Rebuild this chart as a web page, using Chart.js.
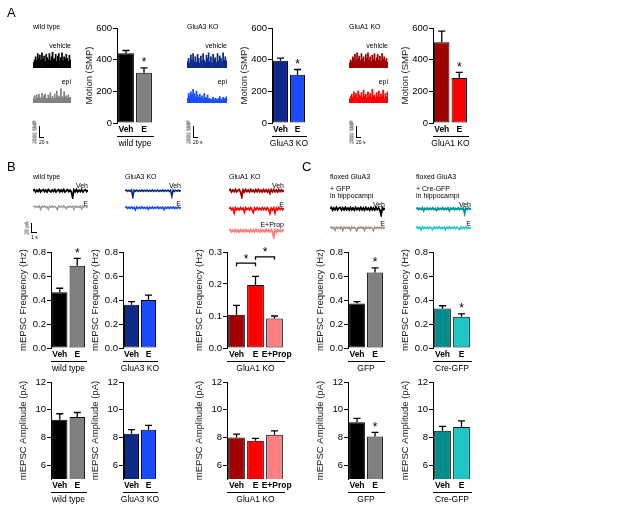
<!DOCTYPE html>
<html>
<head>
<meta charset="utf-8">
<script src="https://cdn.jsdelivr.net/npm/chart.js@4.4.1/dist/chart.umd.min.js"></script>
<style>
  html, body { margin: 0; padding: 0; background: #fff; }
  #fig { position: relative; width: 617px; height: 506px; overflow: hidden;
         font-family: 'Liberation Sans', Arial, sans-serif; color: #000; }
  #fig canvas { position: absolute; }
  .lbl { position: absolute; white-space: nowrap; line-height: 1; color: #000;
         will-change: transform; -webkit-font-smoothing: antialiased; }
  .sb { position: absolute; background: #000; }
</style>
</head>
<body>
<div id="fig"></div>
<script>
/* ---------- data ---------- */
const vehE = ['Veh', 'E'];
const vehEProp = ['Veh', 'E', 'E+Prop'];

// A: motion (SMP), mean and sem
const motionTicks = [0, 200, 400, 600];
const motionWT = [440, 318], motionWTsem = [18, 30];
const motionA3 = [393, 305], motionA3sem = [17, 33];
const motionA1 = [510, 285], motionA1sem = [70, 35];

// B/C: mEPSC frequency (Hz)
const freqTicks = [0, 0.2, 0.4, 0.6, 0.8];
const freqTicksA1 = [0, 0.1, 0.2, 0.3];
const freqWT = [0.464, 0.685], freqWTsem = [0.034, 0.062];
const freqA3 = [0.36, 0.40], freqA3sem = [0.026, 0.04];
const freqA1 = [0.104, 0.197, 0.092], freqA1sem = [0.029, 0.027, 0.008];
const freqGFP = [0.371, 0.629], freqGFPsem = [0.015, 0.039];
const freqCre = [0.329, 0.261], freqCresem = [0.023, 0.023];

// B/C: mEPSC amplitude (pA), axis starts at 5
const ampMin = 5;
const ampTicks = [6, 8, 10, 12];
const ampWT = [9.28, 9.47], ampWTsem = [0.43, 0.33];
const ampA3 = [8.27, 8.56], ampA3sem = [0.29, 0.31];
const ampA1 = [8.0, 7.76, 8.19], ampA1sem = [0.24, 0.17, 0.29];
const ampGFP = [9.1, 8.07], ampGFPsem = [0.27, 0.29];
const ampCre = [8.48, 8.75], ampCresem = [0.32, 0.45];

// significance marks
const starE = [false, true];
const noStar = [false, false, false];
const bracketsA1 = [{ from: 0, to: 1, level: 0.265 }, { from: 1, to: 2, level: 0.285 }];

// A: activity traces (relative counts per bin)
const actWTveh = [0.35,0.5,0.7,0.45,0.9,0.6,0.8,0.5,0.95,0.55,0.75,0.4,0.85,0.65,0.5,0.9,0.45,0.7,1.0,0.55,0.6,0.85,0.4,0.75,0.9,0.5,0.65,0.95,0.45,0.7,0.55,0.85,0.6,0.4,0.8,0.5];
const actWTepi = [0.3,0.45,0.25,0.5,0.3,0.55,0.35,0.25,0.6,0.3,0.45,0.55,0.3,0.25,0.5,0.35,0.65,0.3,0.4,0.25,0.55,0.3,0.75,0.35,0.45,0.3,0.9,0.4,0.3,0.7,0.35,0.45,0.3,0.5,0.3,0.35];
const actA3veh = [0.4,0.6,0.3,0.8,0.5,0.9,0.4,0.7,0.35,0.85,0.6,0.3,0.75,0.45,0.9,0.5,0.35,0.8,0.6,0.95,0.4,0.7,0.3,0.85,0.55,0.65,0.35,0.9,0.45,0.75,0.6,0.4,0.95,0.5,0.7,0.45];
const actA3epi = [0.3,0.6,0.45,0.7,0.5,0.85,0.6,0.4,0.75,0.5,0.35,0.55,0.3,0.45,0.25,0.6,0.35,0.3,0.5,0.25,0.3,0.2,0.25,0.35,0.2,0.3,0.25,0.2,0.3,0.4,0.25,0.2,0.35,0.25,0.3,0.4];
const actA1veh = [0.3,0.5,0.4,0.7,0.6,0.85,0.5,0.95,0.6,0.75,0.45,0.9,0.55,0.7,0.4,0.85,0.6,0.95,0.5,0.7,0.4,0.8,0.55,0.9,0.45,0.65,0.85,0.5,0.75,0.4,0.9,0.55,0.7,0.45,0.6,0.35];
const actA1epi = [0.25,0.4,0.55,0.35,0.7,0.45,0.6,0.3,0.75,0.5,0.4,0.65,0.35,0.8,0.45,0.55,0.3,0.7,0.4,0.6,0.35,0.85,0.45,0.5,0.3,0.65,0.4,0.75,0.35,0.55,0.45,0.8,0.3,0.6,0.4,0.7];

// B/C: current traces (pA, relative to baseline)
const bWTveh = [0,0.8,-0.8,0.4,-0.6,0.9,-0.9,0.2,0.8,-0.7,0.5,-0.9,0.9,0,-0.8,0.6,-0.5,0.9,-0.9,0.1,0.8,-0.8,0.5,-0.6,0.9,-0.9,0,0.8,-0.6,0.4,-0.8,-5,0.6,-0.7,0.9,-0.8,0.4,-0.6,0.8,-0.9,0.2,0.7,-0.6,0.4];
const bWTe = [0,0.5,-0.5,0.3,-0.4,0.6,-2,0.4,-0.3,0.5,-0.5,0.2,-1.8,0.4,-0.4,0.6,-0.5,0.3,-0.4,-2.2,0.5,-0.3,0.4,-0.5,0.6,-0.4,-1.5,0.3,-0.5,0.5,-0.3,0.4,-2,0.5,-0.4,0.3,-0.5,0.6,-1.6,0.4,-0.3,0.5,-0.4,0.2];
const bA3veh = [0,0.5,-0.5,0.4,-0.4,0.6,-4.5,0.4,-0.3,0.5,-0.5,0.3,-0.4,0.6,-0.5,0.4,-0.3,0.5,-0.5,0.3,-0.4,0.6,-0.5,0.4,-0.3,0.5,-0.5,0.3,-0.4,0.6,-0.5,0.4,-0.3,0.5,-0.5,0.3,-4,0.6,-0.5,0.4,-0.3,0.5,-0.4,0.3];
const bA3e = [0,0.6,-0.6,0.4,-0.5,0.7,-0.6,0.3,-1.5,0.6,-0.5,0.4,-0.6,0.7,-0.5,0.3,-0.6,0.5,-1.2,0.4,-0.5,0.6,-0.6,0.4,-0.5,0.7,-0.6,0.3,-0.5,0.6,-1.4,0.4,-0.5,0.6,-0.6,0.4,-0.5,0.7,-0.6,0.3,-0.5,0.6,-0.4,0.3];
const bA1veh = [0,0.9,-0.9,0.5,-0.7,1,-0.8,0.3,0.9,-0.9,-4.5,0.6,-0.9,0.8,-0.7,0.6,-0.8,0.9,-0.6,0.4,-0.9,0.8,-0.7,0.9,-0.8,0.5,-0.9,0.8,-0.6,0.7,-0.9,0.6,-1.8,0.8,-0.7,0.9,-0.8,0.5,-0.9,0.8,-0.6,0.7,-0.5,0.4];
const bA1e = [0,0.9,-0.8,0.5,-3,0.9,-0.8,0.4,-0.9,0.8,-0.7,0.6,-2.5,0.9,-0.6,0.5,-0.9,0.8,-0.7,-2.8,0.6,-0.8,0.9,-0.6,0.5,-0.9,0.8,-0.7,0.6,-0.8,0.9,-0.6,-3.5,0.5,-0.9,0.8,-3.2,0.6,-0.8,0.9,-0.6,0.5,-0.7,0.4];
const bA1prop = [0,0.8,-0.8,0.5,-0.7,0.9,-0.8,0.4,-0.9,0.8,-0.7,0.6,-0.8,0.9,-0.6,0.5,-0.9,0.8,-0.7,0.6,-0.8,0.9,-0.6,0.5,-0.9,0.8,-0.7,0.6,-0.8,0.9,-0.6,0.5,-0.9,0.8,-0.7,-5,0.6,-0.8,0.9,-0.6,0.5,-0.7,0.6,0.4];
const cGFPveh = [0,1,-1,0.6,-0.8,1,-0.9,0.5,1,-1,0.7,-0.8,1,-0.6,0.5,-1,0.9,-0.8,0.6,-1,1,-0.7,0.5,-0.9,1,-0.8,0.6,-1,0.9,-0.7,0.5,-1,1,-0.8,0.6,-0.9,1,-0.7,0.5,-1,-4.5,0.8,-0.6,0.4];
const cGFPe = [0,0.5,-0.5,0.3,-1.8,0.5,-0.4,0.3,-0.5,0.4,-2,0.5,-0.3,0.4,-0.5,0.3,-1.6,0.5,-0.4,0.3,-0.5,-2.2,0.4,-0.3,0.5,-0.4,0.3,-1.8,0.5,-0.4,0.3,-0.5,0.4,-0.3,-2,0.5,-0.4,0.3,-0.5,0.4,-0.3,0.5,-0.4,0.3];
const cCreVeh = [0,0.6,-0.6,0.4,-0.5,0.7,-1.4,0.3,-0.5,0.6,-0.6,0.4,-0.5,0.7,-0.6,0.3,-1.2,0.6,-0.6,0.4,-0.5,0.7,-0.6,0.3,-0.5,0.6,-1.3,0.4,-0.5,0.7,-0.6,0.3,-0.5,0.6,-0.6,0.4,-0.5,0.7,-3.5,0.3,-0.5,0.6,-0.4,0.3];
const cCreE = [0,0.6,-0.6,0.4,-1.6,0.7,-0.6,0.3,-0.5,0.6,-0.6,0.4,-0.5,-1.4,0.6,-0.6,0.4,-0.5,0.7,-0.6,0.3,-0.5,0.6,-1.5,0.4,-0.5,0.7,-0.6,0.3,-0.5,0.6,-0.6,0.4,-0.5,-1.3,0.6,-0.6,0.4,-0.5,0.7,-0.6,0.3,-0.5,0.4];

// colours per genotype
const colWT = ['#000000', '#808080'];
const colA3 = ['#0d2a8a', '#1a4cff'];
const colA1 = ['#a00000', '#ff0000', '#ff8080'];
const colCre = ['#008c8c', '#1fc4c4'];

/* ---------- helpers ---------- */
const FONT = "'Liberation Sans', Arial, sans-serif";
Chart.defaults.font.family = FONT;
Chart.defaults.color = '#000';
const fig = document.getElementById('fig');

function label(text, x, y, size, align, extra) {
  const d = document.createElement('div');
  d.className = 'lbl';
  d.textContent = text;
  d.style.left = x + 'px';
  d.style.top = y + 'px';
  d.style.fontSize = size + 'px';
  const tx = align === 'right' ? '-100%' : align === 'center' ? '-50%' : '0';
  d.style.transform = `translate(${tx}, -50%)` + (extra || '');
  fig.appendChild(d);
  return d;
}

function newCanvas(x, y, w, h) {
  const c = document.createElement('canvas');
  c.width = w; c.height = h;
  c.style.left = x + 'px'; c.style.top = y + 'px';
  c.style.width = w + 'px'; c.style.height = h + 'px';
  fig.appendChild(c);
  return c.getContext('2d');
}

// error bars, stars, brackets and group underline for the bar graphs
const errBarsPlugin = {
  id: 'errbars',
  afterDatasetsDraw(chart, args, opts) {
    if (!opts || !opts.sem) return;
    const ctx = chart.ctx;
    const ys = chart.scales.y;
    const bars = chart.getDatasetMeta(0).data;
    const vals = chart.data.datasets[0].data;
    ctx.save();
    ctx.strokeStyle = '#000';
    ctx.fillStyle = '#000';
    ctx.lineWidth = 1.3;
    ctx.font = `12px ${FONT}`;
    ctx.textAlign = 'center';
    ctx.textBaseline = 'middle';
    bars.forEach((bar, i) => {
      const top = ys.getPixelForValue(vals[i] + opts.sem[i]);
      ctx.beginPath();
      ctx.moveTo(bar.x, bar.y);
      ctx.lineTo(bar.x, top);
      ctx.moveTo(bar.x - 3.5, top);
      ctx.lineTo(bar.x + 3.5, top);
      ctx.stroke();
      if (opts.stars && opts.stars[i]) ctx.fillText('*', bar.x, top - 5);
    });
    (opts.brackets || []).forEach(b => {
      const y = ys.getPixelForValue(b.level);
      const x1 = bars[b.from].x, x2 = bars[b.to].x;
      ctx.beginPath();
      ctx.moveTo(x1, y + 3); ctx.lineTo(x1, y); ctx.lineTo(x2, y); ctx.lineTo(x2, y + 3);
      ctx.stroke();
      ctx.fillText('*', (x1 + x2) / 2, y - 4);
    });
    const a = chart.chartArea;
    ctx.lineWidth = 1;
    ctx.beginPath();
    ctx.moveTo(a.left, a.bottom + 13.5);
    ctx.lineTo(a.right + 1, a.bottom + 13.5);
    ctx.stroke();
    ctx.font = `8.5px ${FONT}`;
    ctx.fillText(opts.group, (a.left + a.right) / 2, a.bottom + 20.5);
    ctx.restore();
  }
};
Chart.register(errBarsPlugin);

const Y_W = 33, X_H = 28, PAD_T = 14, PAD_R = 18;

function barGraph(p) {
  const cx = p.axisX - Y_W;
  const cy = Math.round(p.top) - PAD_T;
  const w = p.right - cx + PAD_R;
  const h = Math.round(p.bottom) - cy + X_H;
  const ctx = newCanvas(cx, cy, w, h);
  const yMin = p.min !== undefined ? p.min : p.ticks[0];
  return new Chart(ctx, {
    type: 'bar',
    data: {
      labels: p.labels,
      datasets: [{
        data: p.values,
        backgroundColor: p.colors,
        borderColor: '#000',
        borderWidth: 1,
        borderSkipped: false,
        barPercentage: 0.88,
        categoryPercentage: 1
      }]
    },
    options: {
      responsive: false,
      animation: false,
      devicePixelRatio: 1,
      layout: { padding: { top: Math.round(p.top) - cy, right: PAD_R, left: 0, bottom: 0 } },
      plugins: {
        legend: { display: false },
        tooltip: { enabled: false },
        errbars: { sem: p.sem, stars: p.stars, brackets: p.brackets, group: p.group }
      },
      scales: {
        x: {
          grid: { display: false, drawTicks: false },
          border: { display: false },
          ticks: {
            font: { size: 8.5, weight: 'bold' }, color: '#000', padding: 2, maxRotation: 0, autoSkip: false,
            // long label sits a little right of its bar, as in the original
            callback: (v, i) => (p.labels[i].length > 3 ? '\u2002' : '') + p.labels[i]
          },
          afterFit: s => { s.height = X_H; }
        },
        y: {
          min: yMin,
          max: p.ticks[p.ticks.length - 1],
          afterBuildTicks: s => { s.ticks = p.ticks.map(v => ({ value: v })); },
          grid: { drawOnChartArea: false, drawTicks: true, tickLength: 4, color: '#000', lineWidth: 1 },
          border: { display: true, color: '#000', width: 1 },
          ticks: { font: { size: 9.5 }, color: '#000', padding: 1, callback: p.fmt },
          title: { display: true, text: p.title, font: { size: 9.5 }, color: '#222', padding: 0 },
          afterFit: s => { s.width = Y_W; }
        }
      }
    }
  });
}

function traceGraph(vals, color, x, y, w, h, kind, yMin, yMax, lw) {
  const ctx = newCanvas(x, y, w, h);
  const ds = kind === 'bar'
    ? { data: vals, backgroundColor: color, borderWidth: 0, barPercentage: 1, categoryPercentage: 1 }
    : { data: vals, borderColor: color, borderWidth: lw || 1, pointRadius: 0, tension: 0 };
  return new Chart(ctx, {
    type: kind,
    data: { labels: vals.map((_, i) => i), datasets: [ds] },
    options: {
      responsive: false, animation: false, devicePixelRatio: 1,
      layout: { padding: 0 },
      plugins: { legend: { display: false }, tooltip: { enabled: false }, errbars: false },
      scales: {
        x: { display: false, offset: kind === 'bar' },
        y: { display: false, min: yMin, max: yMax }
      }
    }
  });
}

function scaleBar(x, y0, y1, x1, vText, hText) {
  const v = document.createElement('div');
  v.className = 'sb';
  v.style.cssText = `left:${x}px;top:${y0}px;width:1px;height:${y1 - y0}px;`;
  fig.appendChild(v);
  const hz = document.createElement('div');
  hz.className = 'sb';
  hz.style.cssText = `left:${x}px;top:${y1}px;width:${x1 - x}px;height:1px;`;
  fig.appendChild(hz);
  label(vText, x - 4, (y0 + y1) / 2, 5, 'center', ' rotate(-90deg)');
  label(hText, x, y1 + 5, 5, 'left');
}

const fmt0 = v => String(v);
const fmt1 = v => Number(v).toFixed(1);

/* ---------- panel letters ---------- */
label('A', 7, 12, 13, 'left');
label('B', 7, 166, 13, 'left');
label('C', 302, 166, 13, 'left');

/* ---------- A ---------- */
const actSets = [
  { name: 'wild type', x: 33, r: 71, veh: actWTveh, epi: actWTepi, col: colWT, sb: 39 },
  { name: 'GluA3 KO', x: 187, r: 227, veh: actA3veh, epi: actA3epi, col: colA3, sb: 193 },
  { name: 'GluA1 KO', x: 349, r: 388, veh: actA1veh, epi: actA1epi, col: colA1, sb: 356 }
];
actSets.forEach(s => {
  label(s.name, s.x, 26, 7, 'left');
  label('vehicle', s.r, 45, 7, 'right');
  label('epi', s.r, 81, 7, 'right');
  traceGraph(s.veh, s.col[0], s.x, 52, s.r - s.x, 16, 'bar', 0, 1);
  traceGraph(s.epi, s.col[1], s.x, 87, s.r - s.x, 16, 'bar', 0, 1);
  scaleBar(s.sb, 126, 137, s.sb + 5, '2000 SMP', '20 s');
});

barGraph({ axisX: 117, top: 28, bottom: 123, right: 153, labels: vehE, values: motionWT, sem: motionWTsem,
  colors: colWT, ticks: motionTicks, fmt: fmt0, title: 'Motion (SMP)', group: 'wild type', stars: starE });
barGraph({ axisX: 272, top: 28, bottom: 123, right: 306, labels: vehE, values: motionA3, sem: motionA3sem,
  colors: colA3, ticks: motionTicks, fmt: fmt0, title: 'Motion (SMP)', group: 'GluA3 KO', stars: starE });
barGraph({ axisX: 433, top: 28, bottom: 123, right: 468, labels: vehE, values: motionA1, sem: motionA1sem,
  colors: colA1, ticks: motionTicks, fmt: fmt0, title: 'Motion (SMP)', group: 'GluA1 KO', stars: starE });

/* ---------- B traces ---------- */
label('wild type', 33, 176, 7, 'left');
label('Veh', 88, 185, 7, 'right');
label('E', 88, 203, 7, 'right');
traceGraph(bWTveh, '#000000', 33, 188, 55, 11, 'line', -6, 2, 1.8);
traceGraph(bWTe, '#999999', 33, 204, 55, 11, 'line', -6, 2, 1.4);

label('GluA3 KO', 125, 176, 7, 'left');
label('Veh', 181, 185, 7, 'right');
label('E', 181, 203, 7, 'right');
traceGraph(bA3veh, colA3[0], 125, 188, 56, 11, 'line', -6, 2, 1.6);
traceGraph(bA3e, colA3[1], 125, 205, 56, 11, 'line', -6, 2, 1.6);

label('GluA1 KO', 229, 176, 7, 'left');
label('Veh', 284, 185, 7, 'right');
label('E', 284, 204, 7, 'right');
label('E+Prop', 284, 224, 7, 'right');
traceGraph(bA1veh, colA1[0], 229, 188, 55, 11, 'line', -6, 2, 1.8);
traceGraph(bA1e, colA1[1], 229, 206, 55, 11, 'line', -6, 2, 1.6);
traceGraph(bA1prop, colA1[2], 229, 228, 55, 11, 'line', -6, 2, 1.8);

scaleBar(31, 223, 232, 37, '20 pA', '1 s');

/* ---------- C traces ---------- */
[{ x: 330, r: 385, what: '+ GFP', veh: cGFPveh, e: cGFPe, cv: '#000000', ce: '#a88c80' },
 { x: 416, r: 471, what: '+ Cre-GFP', veh: cCreVeh, e: cCreE, cv: '#009898', ce: '#20c8c8' }].forEach(s => {
  label('floxed GluA3', s.x, 176, 7, 'left');
  label(s.what, s.x, 188, 7, 'left');
  label('in hippocampi', s.x, 195, 7, 'left');
  label('Veh', s.r, 204, 7, 'right');
  label('E', s.r, 223, 7, 'right');
  traceGraph(s.veh, s.cv, s.x, 206, s.r - s.x, 11, 'line', -6, 2, 1.8);
  traceGraph(s.e, s.ce, s.x, 225, s.r - s.x, 11, 'line', -6, 2, 1.6);
});

/* ---------- B/C frequency ---------- */
const FT = 252, FB = 348, AT = 382, AB = 479;
const freqTitle = 'mEPSC Frequency (Hz)', ampTitle = 'mEPSC Amplitude (pA)';
barGraph({ axisX: 51, top: FT, bottom: FB, right: 86, labels: vehE, values: freqWT, sem: freqWTsem,
  colors: colWT, ticks: freqTicks, fmt: fmt1, title: freqTitle, group: 'wild type', stars: starE });
barGraph({ axisX: 123, top: FT, bottom: FB, right: 157, labels: vehE, values: freqA3, sem: freqA3sem,
  colors: colA3, ticks: freqTicks, fmt: fmt1, title: freqTitle, group: 'GluA3 KO', stars: noStar });
barGraph({ axisX: 227, top: FT, bottom: FB, right: 284, labels: vehEProp, values: freqA1, sem: freqA1sem,
  colors: colA1, ticks: freqTicksA1, fmt: fmt1, title: freqTitle, group: 'GluA1 KO',
  stars: noStar, brackets: bracketsA1 });
barGraph({ axisX: 348, top: FT, bottom: FB, right: 384, labels: vehE, values: freqGFP, sem: freqGFPsem,
  colors: colWT, ticks: freqTicks, fmt: fmt1, title: freqTitle, group: 'GFP', stars: starE });
barGraph({ axisX: 433, top: FT, bottom: FB, right: 471, labels: vehE, values: freqCre, sem: freqCresem,
  colors: colCre, ticks: freqTicks, fmt: fmt1, title: freqTitle, group: 'Cre-GFP', stars: starE });

/* ---------- B/C amplitude ---------- */
barGraph({ axisX: 51, top: AT, bottom: AB, right: 86, labels: vehE, values: ampWT, sem: ampWTsem, min: ampMin,
  colors: colWT, ticks: ampTicks, fmt: fmt0, title: ampTitle, group: 'wild type', stars: noStar });
barGraph({ axisX: 123, top: AT, bottom: AB, right: 157, labels: vehE, values: ampA3, sem: ampA3sem, min: ampMin,
  colors: colA3, ticks: ampTicks, fmt: fmt0, title: ampTitle, group: 'GluA3 KO', stars: noStar });
barGraph({ axisX: 227, top: AT, bottom: AB, right: 284, labels: vehEProp, values: ampA1, sem: ampA1sem, min: ampMin,
  colors: colA1, ticks: ampTicks, fmt: fmt0, title: ampTitle, group: 'GluA1 KO', stars: noStar });
barGraph({ axisX: 348, top: AT, bottom: AB, right: 384, labels: vehE, values: ampGFP, sem: ampGFPsem, min: ampMin,
  colors: colWT, ticks: ampTicks, fmt: fmt0, title: ampTitle, group: 'GFP', stars: starE });
barGraph({ axisX: 433, top: AT, bottom: AB, right: 471, labels: vehE, values: ampCre, sem: ampCresem, min: ampMin,
  colors: colCre, ticks: ampTicks, fmt: fmt0, title: ampTitle, group: 'Cre-GFP', stars: noStar });
</script>
</body>
</html>
